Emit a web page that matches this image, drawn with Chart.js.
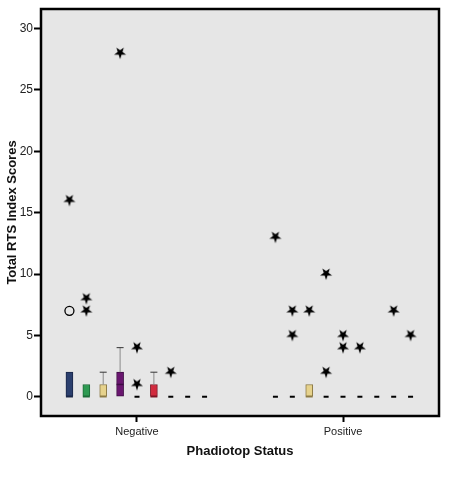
<!DOCTYPE html>
<html>
<head>
<meta charset="utf-8">
<script src="https://cdn.jsdelivr.net/npm/chart.js@4.4.0/dist/chart.umd.min.js"></script>
<style>
    html, body { margin: 0; padding: 0; background: #fff; }
    #wrap { width: 456px; height: 480px; }
</style>
</head>
<body>
<div id="wrap"><canvas id="box-chart"></canvas></div>
<script>
const groups = ['Negative', 'Positive']
const yTicks = [0, 5, 10, 15, 20, 25, 30]

// 9 boxes per group (left to right)
const negQ1 = [0, 0, 0, 0, 0, 0, 0, 0, 0]
const negMedian = [0, 0, 0, 1, 0, 0, 0, 0, 0]
const negQ3 = [2, 1, 1, 2, 0, 1, 0, 0, 0]
const negWhisker = [2, 1, 2, 4, 0, 2, 0, 0, 0]
const negOutliers = [[7], [], [], [], [], [], [], [], []]
const negExtremes = [[16], [8, 7], [], [28], [4, 1], [], [2], [], []]

const posQ1 = [0, 0, 0, 0, 0, 0, 0, 0, 0]
const posMedian = [0, 0, 0, 0, 0, 0, 0, 0, 0]
const posQ3 = [0, 0, 1, 0, 0, 0, 0, 0, 0]
const posWhisker = [0, 0, 1, 0, 0, 0, 0, 0, 0]
const posOutliers = [[], [], [], [], [], [], [], [], []]
const posExtremes = [[13], [7, 5], [7], [10, 2], [5, 4], [4], [], [7], [5]]

const fills = ['#2b3f6e', '#2e9a52', '#e6d28c', '#6a1670', '#8a8a8a', '#d22a3e', '#5a7fb0', '#b07a3a', '#4aa0a0']
const edges = ['#1a2748', '#1d6b38', '#8c7a45', '#3f0b44', '#555555', '#7d1525', '#355074', '#6d4a22', '#2d6464']

const step = 0.082   // gap between boxes inside a group, in x units

const cols = []
const sets = [
    [negQ1, negMedian, negQ3, negWhisker, negOutliers, negExtremes],
    [posQ1, posMedian, posQ3, posWhisker, posOutliers, posExtremes]
]
sets.forEach((s, g) => {
    for (let j = 0; j < 9; j++) {
        cols.push({
            x: g + (j - 4) * step,
            q1: s[0][j], med: s[1][j], q3: s[2][j], hi: s[3][j],
            out: s[4][j], ext: s[5][j], cor: j
        })
    }
})

const realBoxes = cols.filter(c => c.q3 > c.q1)

let starPts = []
let circlePts = []
cols.forEach(c => {
    c.ext.forEach(v => starPts.push({ x: c.x, y: v }))
    c.out.forEach(v => circlePts.push({ x: c.x, y: v }))
})

function makeStar() {
    const c = document.createElement('canvas')
    c.width = 14
    c.height = 14
    const g = c.getContext('2d')
    g.fillStyle = '#000'
    g.beginPath()
    for (let i = 0; i < 10; i++) {
        const r = i % 2 === 0 ? 6.3 : 2.5
        const a = Math.PI / 2 + i * Math.PI / 5
        g.lineTo(7 + r * Math.cos(a), 6.6 + r * Math.sin(a))
    }
    g.closePath()
    g.fill()
    return c
}

const boxExtras = {
    id: 'boxExtras',
    beforeDraw(chart) {
        const { ctx, chartArea: a } = chart
        ctx.save()
        ctx.fillStyle = '#e6e6e6'
        ctx.fillRect(a.left, a.top, a.right - a.left, a.bottom - a.top)
        ctx.restore()
    },
    afterDatasetsDraw(chart) {
        const ctx = chart.ctx
        const xs = chart.scales.x
        const ys = chart.scales.y
        ctx.save()
        cols.forEach(c => {
            const px = xs.getPixelForValue(c.x)
            if (c.hi > c.q3) {
                ctx.strokeStyle = '#8a8a8a'
                ctx.lineWidth = 1
                ctx.beginPath()
                ctx.moveTo(px, ys.getPixelForValue(c.q3))
                ctx.lineTo(px, ys.getPixelForValue(c.hi))
                ctx.stroke()
                ctx.strokeStyle = '#333'
                ctx.beginPath()
                ctx.moveTo(px - 3.5, ys.getPixelForValue(c.hi))
                ctx.lineTo(px + 3.5, ys.getPixelForValue(c.hi))
                ctx.stroke()
            }
            const flat = c.q1 === c.q3
            const w = flat ? 2.5 : 3.5
            ctx.strokeStyle = flat ? '#000' : edges[c.cor]
            ctx.lineWidth = flat ? 2 : 1.5
            const py = ys.getPixelForValue(c.med)
            ctx.beginPath()
            ctx.moveTo(px - w, py)
            ctx.lineTo(px + w, py)
            ctx.stroke()
        })
        ctx.restore()
    },
    afterDraw(chart) {
        const { ctx, chartArea: a } = chart
        ctx.save()
        ctx.strokeStyle = '#000'
        ctx.lineWidth = 2.5
        ctx.strokeRect(a.left, a.top, a.right - a.left, a.bottom - a.top)
        ctx.restore()
    }
}

const fonte = 'Liberation Sans, Arial, sans-serif'
const ctx = document.getElementById('box-chart').getContext('2d')

new Chart(ctx, {
    type: 'scatter',
    data: {
        datasets: [
            {
                type: 'bar',
                data: realBoxes.map(c => ({ x: c.x, y: [c.q1, c.q3] })),
                backgroundColor: realBoxes.map(c => fills[c.cor]),
                borderColor: realBoxes.map(c => edges[c.cor]),
                borderWidth: 1,
                borderSkipped: false,
                barThickness: 7,
                grouped: false
            },
            {
                data: starPts,
                pointStyle: makeStar(),
                pointRadius: 6
            },
            {
                data: circlePts,
                pointStyle: 'circle',
                pointRadius: 4.5,
                borderWidth: 1.3,
                borderColor: '#000',
                backgroundColor: 'rgba(0,0,0,0)'
            }
        ]
    },
    options: {
        responsive: true,
        maintainAspectRatio: false,
        animation: false,
        layout: { padding: { top: 9, right: 17, left: 0, bottom: 0 } },
        plugins: {
            legend: { display: false },
            tooltip: { enabled: false }
        },
        scales: {
            x: {
                type: 'linear',
                min: -0.466,
                max: 1.466,
                offset: false,
                afterFit: s => { s.height = 64 },
                afterBuildTicks: s => { s.ticks = groups.map((g, i) => ({ value: i })) },
                border: { display: false },
                grid: { offset: false, drawOnChartArea: false, drawTicks: true, tickLength: 6, tickColor: '#000', tickWidth: 2 },
                ticks: {
                    color: '#222',
                    padding: 3,
                    font: { family: fonte, size: 11 },
                    callback: v => groups[v]
                },
                title: {
                    display: true,
                    text: 'Phadiotop Status',
                    color: '#111',
                    font: { family: fonte, size: 13, weight: 'bold' },
                    padding: { top: 4, bottom: 21 }
                }
            },
            y: {
                min: -1.57,
                max: 31.6,
                afterFit: s => { s.width = 41 },
                afterBuildTicks: s => { s.ticks = yTicks.map(v => ({ value: v })) },
                border: { display: false },
                grid: { drawOnChartArea: false, drawTicks: true, tickLength: 7, tickColor: '#000', tickWidth: 2 },
                ticks: {
                    color: '#222',
                    padding: 1,
                    font: { family: fonte, size: 12 },
                    callback: v => v
                },
                title: {
                    display: true,
                    text: 'Total RTS Index Scores',
                    color: '#111',
                    font: { family: fonte, size: 13, weight: 'bold' },
                    padding: { top: 5, bottom: 0 }
                }
            }
        }
    },
    plugins: [boxExtras]
})
</script>
</body>
</html>
